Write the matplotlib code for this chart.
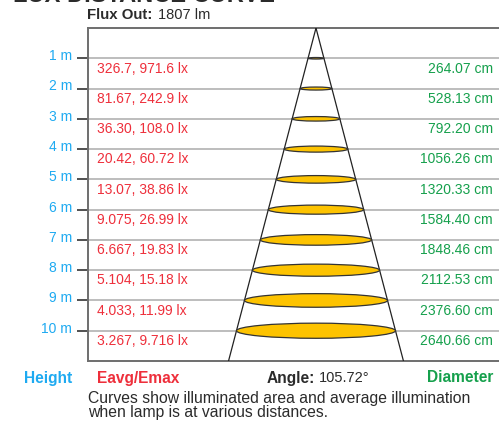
import matplotlib

matplotlib.use("Agg")

import matplotlib.pyplot as plt
from matplotlib.patches import Ellipse

plt.rcParams["font.family"] = ["Liberation Sans", "DejaVu Sans"]

HEIGHTS_M = [1, 2, 3, 4, 5, 6, 7, 8, 9, 10]
EAVG = ["326.7", "81.67", "36.30", "20.42", "13.07", "9.075", "6.667", "5.104", "4.033", "3.267"]
EMAX = ["971.6", "242.9", "108.0", "60.72", "38.86", "26.99", "19.83", "15.18", "11.99", "9.716"]
DIAMETERS_CM = [264.07, 528.13, 792.20, 1056.26, 1320.33, 1584.40, 1848.46, 2112.53, 2376.60, 2640.66]
FLUX_LM = 1807
BEAM_ANGLE = 105.72

BLUE = "#1eaaf1"
RED = "#ee2f3b"
GREEN = "#15a04c"
TEXT_DARK = "#2b2b2b"
GOLD = "#fdc300"

W, H = 499, 422
fig = plt.figure(figsize=(W / 100, H / 100), dpi=100)
ax = fig.add_axes([88 / W, 1 - 361 / H, 1 - 88 / W, (361 - 28) / H])

# x in cm, centred on the lamp; y in metres going down
ax.set_xlim(-3786, 3039)
ax.set_ylim(11, 0)

for d in HEIGHTS_M:
    ax.axhline(d, color="#bdbdbd", linewidth=1.4, zorder=1)

# beam cone from the lamp down to the bottom edge
slope = DIAMETERS_CM[-1] / 2 / HEIGHTS_M[-1]
ax.plot([0, -slope * 11], [0, 11], color="#222222", linewidth=0.9, zorder=3)
ax.plot([0, slope * 11], [0, 11], color="#222222", linewidth=0.9, zorder=3)

for d, dia in zip(HEIGHTS_M, DIAMETERS_CM):
    ax.add_patch(Ellipse((0, d), dia, 0.05 * d, facecolor=GOLD, edgecolor="#333333",
                         linewidth=0.9, zorder=4))

tr = ax.get_yaxis_transform()
for d, ea, em, dia in zip(HEIGHTS_M, EAVG, EMAX, DIAMETERS_CM):
    ax.text(9 / 411, d + 0.34, f"{ea}, {em} lx", transform=tr, color=RED,
            fontsize=10, ha="left", va="center")
    ax.text(405 / 411, d + 0.34, f"{dia:.2f} cm", transform=tr, color=GREEN,
            fontsize=10, ha="right", va="center")
    ax.text(-16 / 411, d - 0.07, f"{d} m", transform=tr, color=BLUE,
            fontsize=10, ha="right", va="center")

ax.set_yticks(HEIGHTS_M)
ax.set_yticklabels([])
ax.tick_params(axis="y", length=8, width=1.2, color="#333333")
ax.set_xticks([])

for side in ["left", "top", "bottom"]:
    ax.spines[side].set_color("#6e6e6e")
    ax.spines[side].set_linewidth(1.4)
ax.spines["right"].set_visible(False)

# header, mostly cut off at the top edge
fig.text(13 / W, 1 - 2 / H, "LUX DISTANCE CURVE", fontsize=17, fontweight="bold",
         color=TEXT_DARK, ha="left", va="baseline")
fig.text(87 / W, 1 - 15 / H, "Flux Out:", fontsize=10.8, fontweight="bold",
         color=TEXT_DARK, ha="left", va="center")
fig.text(158 / W, 1 - 15 / H, f"{FLUX_LM} lm", fontsize=10.5, color=TEXT_DARK,
         ha="left", va="center")

row_y = 1 - 378 / H
fig.text(72 / W, row_y, "Height", fontsize=11.2, fontweight="bold", color=BLUE, ha="right", va="center")
fig.text(97 / W, row_y, "Eavg/Emax", fontsize=11.2, fontweight="bold", color=RED, ha="left", va="center")
fig.text(267 / W, row_y, "Angle:", fontsize=11.2, fontweight="bold", color=TEXT_DARK, ha="left", va="center")
fig.text(319 / W, row_y, f"{BEAM_ANGLE}°", fontsize=10.5, color=TEXT_DARK, ha="left", va="center")
fig.text(493 / W, row_y, "Diameter", fontsize=11.2, fontweight="bold", color=GREEN, ha="right", va="center")

fig.text(88 / W, 1 - 391 / H,
         "Curves show illuminated area and average illumination\nwhen lamp is at various distances.",
         fontsize=11.3, color=TEXT_DARK, ha="left", va="top", linespacing=0.9)

fig.savefig("out.png", dpi=100)
